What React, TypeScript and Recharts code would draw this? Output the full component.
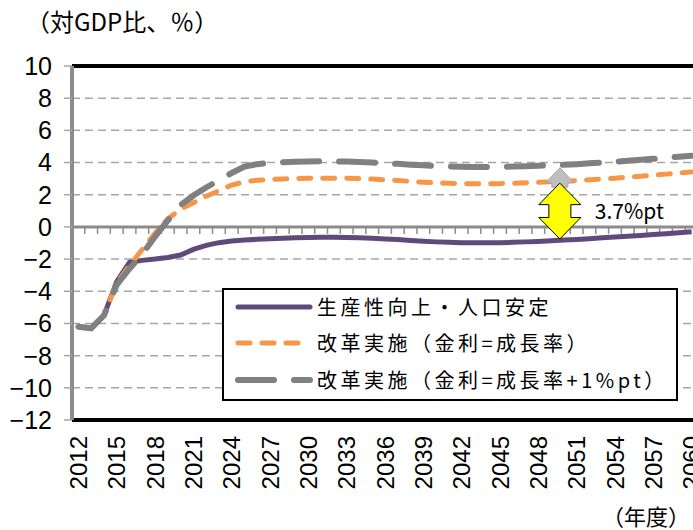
import React from 'react';
import { LineChart, Line, XAxis, YAxis, CartesianGrid, ReferenceLine, Legend } from 'recharts';

const years = [
  '2012','2013','2014','2015','2016','2017','2018','2019','2020','2021',
  '2022','2023','2024','2025','2026','2027','2028','2029','2030','2031',
  '2032','2033','2034','2035','2036','2037','2038','2039','2040','2041',
  '2042','2043','2044','2045','2046','2047','2048','2049','2050','2051',
  '2052','2053','2054','2055','2056','2057','2058','2059','2060',
];

const productivity = [
  -6.2, -6.3, -5.5, -3.4, -2.2, -2.08, -2.0, -1.9, -1.75, -1.4,
  -1.15, -0.98, -0.88, -0.82, -0.77, -0.73, -0.7, -0.68, -0.66, -0.65,
  -0.65, -0.66, -0.68, -0.71, -0.75, -0.79, -0.84, -0.89, -0.93, -0.96,
  -0.98, -0.99, -0.99, -0.98, -0.96, -0.93, -0.9, -0.86, -0.82, -0.78,
  -0.73, -0.68, -0.63, -0.58, -0.53, -0.47, -0.42, -0.36, -0.3,
];

const reformEqual = [
  -6.2, -6.3, -5.5, -3.5, -2.4, -1.4, -0.4, 0.5, 1.1, 1.5,
  1.9, 2.25, 2.6, 2.8, 2.9, 2.95, 2.98, 3.0, 3.02, 3.03,
  3.03, 3.02, 3.0, 2.97, 2.93, 2.88, 2.83, 2.78, 2.74, 2.71,
  2.69, 2.68, 2.68, 2.69, 2.71, 2.74, 2.77, 2.8, 2.84, 2.88,
  2.93, 2.98, 3.03, 3.09, 3.15, 3.21, 3.28, 3.35, 3.42,
];

const reformPlus1 = [
  -6.2, -6.3, -5.5, -3.6, -2.6, -1.7, -0.6, 0.4, 1.35, 1.95,
  2.45, 2.9, 3.35, 3.75, 3.9, 3.98, 4.02, 4.05, 4.07, 4.08,
  4.08, 4.06, 4.03, 4.0, 3.96, 3.92, 3.87, 3.83, 3.79, 3.76,
  3.74, 3.73, 3.73, 3.74, 3.75, 3.77, 3.8, 3.83, 3.86, 3.9,
  3.95, 4.0, 4.05, 4.11, 4.17, 4.23, 4.3, 4.36, 4.42,
];

const yTicks = [-12, -10, -8, -6, -4, -2, 0, 2, 4, 6, 8, 10];

const seriesNames = [
  '生産性向上・人口安定',
  '改革実施（金利=成長率）',
  '改革実施（金利=成長率+1%pt）',
];

const titleText = '（対GDP比、％）';
const xAxisTitle = '（年度）';
const gapLabel = '3.7%pt';
const arrowYear = '2050';
const arrowTop = 3.68;
const arrowMid = 2.72;
const arrowBottom = -0.75;

const data = years.map((y, i) => ({
  year: y,
  productivity: productivity[i],
  reformEqual: reformEqual[i],
  reformPlus1: reformPlus1[i],
}));

const COLORS = {
  productivity: '#604a7b',
  reformEqual: '#f79646',
  reformPlus1: '#808080',
};

const NUM_FONT = '"Liberation Sans", Arial, sans-serif';
const JP_FONT = '"Noto Sans CJK JP", "Noto Sans", sans-serif';

const fmtY = (v: number) => (v < 0 ? '\u2212' + Math.abs(v) : String(v));

const XTick = (props: any) => {
  const { x, y, payload } = props;
  return (
    <text
      x={x}
      y={y}
      transform={`rotate(-90, ${x}, ${y})`}
      textAnchor="end"
      dy="0.36em"
      fontSize={24}
      fontFamily={NUM_FONT}
      fill="#000"
    >
      {payload.value}
    </text>
  );
};

const ZeroLineShape = (props: any) => {
  const { x1, x2, y1 } = props;
  const n = years.length;
  const step = (x2 - x1) / n;
  const ticks = [];
  for (let i = 1; i < n; i++) {
    const tx = x1 + i * step;
    ticks.push(<line key={i} x1={tx} x2={tx} y1={y1} y2={y1 + 7} stroke="#8c8c8c" strokeWidth={1.5} />);
  }
  return (
    <g>
      {ticks}
      <line x1={x1} x2={x2} y1={y1} y2={y1} stroke="#8c8c8c" strokeWidth={3} />
    </g>
  );
};

const GrayArrow = (props: any) => {
  const { x1, y1, y2 } = props;
  const top = Math.min(y1, y2);
  const bottom = Math.max(y1, y2);
  const cx = x1 - 4;
  const head = 15;
  const pts = [
    [cx, top],
    [cx + 14, top + head],
    [cx + 8, top + head],
    [cx + 8, bottom + 4],
    [cx - 8, bottom + 4],
    [cx - 8, top + head],
    [cx - 14, top + head],
  ].map((p) => p.join(',')).join(' ');
  return <polygon points={pts} fill="#bfbfbf" stroke="#a6a6a6" strokeWidth={1} />;
};

const YellowArrow = (props: any) => {
  const { x1, y1, y2 } = props;
  const top = Math.min(y1, y2);
  const bottom = Math.max(y1, y2);
  const cx = x1 - 4;
  const head = 21.5;
  const pts = [
    [cx, top],
    [cx + 21, top + head],
    [cx + 11, top + head],
    [cx + 11, bottom - head],
    [cx + 21, bottom - head],
    [cx, bottom],
    [cx - 21, bottom - head],
    [cx - 11, bottom - head],
    [cx - 11, top + head],
    [cx - 21, top + head],
  ].map((p) => p.join(',')).join(' ');
  return (
    <g>
      <polygon points={pts} fill="#ffff00" stroke="#000" strokeWidth={1} />
      <text
        x={cx + 35}
        y={(top + bottom) / 2}
        dy="0.36em"
        fontSize={21}
        fontFamily={JP_FONT}
        fill="#000"
      >
        {gapLabel}
      </text>
    </g>
  );
};

const legendStyles = [
  { color: COLORS.productivity, dash: undefined, width: 5 },
  { color: COLORS.reformEqual, dash: '12 12', width: 5 },
  { color: COLORS.reformPlus1, dash: '36 20', width: 6 },
];

const LegendBox = () => (
  <div
    style={{
      width: 456,
      height: 113,
      border: '2px solid #000',
      boxSizing: 'border-box',
      background: '#fff',
      position: 'relative',
    }}
  >
    {seriesNames.map((name, i) => {
      const cy = [17, 53, 90][i];
      const st = legendStyles[i];
      return (
        <div key={name} style={{ position: 'absolute', left: 0, top: cy - 15, height: 30, width: 450 }}>
          <svg width={90} height={30} style={{ position: 'absolute', left: 0, top: 0 }}>
            <line
              x1={14}
              x2={86}
              y1={15}
              y2={15}
              stroke={st.color}
              strokeWidth={st.width}
              strokeDasharray={st.dash}
              strokeLinecap="round"
            />
          </svg>
          <span
            style={{
              position: 'absolute',
              left: 93,
              top: 0,
              lineHeight: '30px',
              fontSize: 20,
              letterSpacing: 3.5,
              fontFamily: JP_FONT,
              color: '#000',
              whiteSpace: 'nowrap',
            }}
          >
            {name}
          </span>
        </div>
      );
    })}
  </div>
);

export default function App() {
  return (
    <div
      style={{
        position: 'absolute',
        left: 0,
        top: 0,
        width: 693,
        height: 530,
        overflow: 'hidden',
        background: '#fff',
      }}
    >
      <div
        style={{
          position: 'absolute',
          left: 26,
          top: 6,
          fontSize: 24,
          lineHeight: '30px',
          fontFamily: JP_FONT,
          color: '#000',
          whiteSpace: 'nowrap',
        }}
      >
        {titleText}
      </div>
      <div
        style={{
          position: 'absolute',
          left: 602,
          top: 501,
          fontSize: 22,
          lineHeight: '28px',
          fontFamily: JP_FONT,
          color: '#000',
          whiteSpace: 'nowrap',
          zIndex: 2,
        }}
      >
        {xAxisTitle}
      </div>
      <LineChart
        width={701}
        height={530}
        data={data}
        margin={{ top: 66, right: 3, bottom: 0, left: 0 }}
      >
        <CartesianGrid
          horizontal
          vertical={false}
          stroke="#a6a6a6"
          strokeWidth={1.5}
          strokeDasharray="8 5"
        />
        <XAxis
          dataKey="year"
          scale="band"
          interval={2}
          height={110}
          tickSize={0}
          tickMargin={16}
          tick={<XTick />}
          axisLine={{ stroke: '#000', strokeWidth: 4 }}
          tickLine={false}
        />
        <YAxis
          domain={[-12, 10]}
          ticks={yTicks}
          type="number"
          width={72}
          tickSize={8}
          tickMargin={12}
          tickFormatter={fmtY}
          tick={{ fontSize: 25, fontFamily: NUM_FONT, fill: '#000' }}
          axisLine={{ stroke: '#8c8c8c', strokeWidth: 4 }}
          tickLine={{ stroke: '#a6a6a6', strokeWidth: 1.5 }}
          interval={0}
        />
        <ReferenceLine y={0} shape={<ZeroLineShape />} />
        <ReferenceLine y={10} stroke="#000" strokeWidth={4} />
        <Line
          dataKey="productivity"
          name={seriesNames[0]}
          stroke={COLORS.productivity}
          strokeWidth={5}
          dot={false}
          isAnimationActive={false}
        />
        <Line
          dataKey="reformEqual"
          name={seriesNames[1]}
          stroke={COLORS.reformEqual}
          strokeWidth={5}
          strokeDasharray="12 12"
          strokeLinecap="round"
          dot={false}
          isAnimationActive={false}
        />
        <Line
          dataKey="reformPlus1"
          name={seriesNames[2]}
          stroke={COLORS.reformPlus1}
          strokeWidth={6}
          strokeDasharray="36 20"
          strokeLinecap="round"
          dot={false}
          isAnimationActive={false}
        />
        <ReferenceLine
          segment={[{ x: arrowYear, y: arrowMid }, { x: arrowYear, y: arrowTop }]}
          shape={<GrayArrow />}
        />
        <ReferenceLine
          segment={[{ x: arrowYear, y: arrowBottom }, { x: arrowYear, y: arrowMid }]}
          shape={<YellowArrow />}
        />
        <Legend
          layout="vertical"
          align="center"
          verticalAlign="middle"
          wrapperStyle={{ position: 'absolute', left: 222, top: 288, width: 456, height: 113 }}
          content={<LegendBox />}
        />
      </LineChart>
    </div>
  );
}
